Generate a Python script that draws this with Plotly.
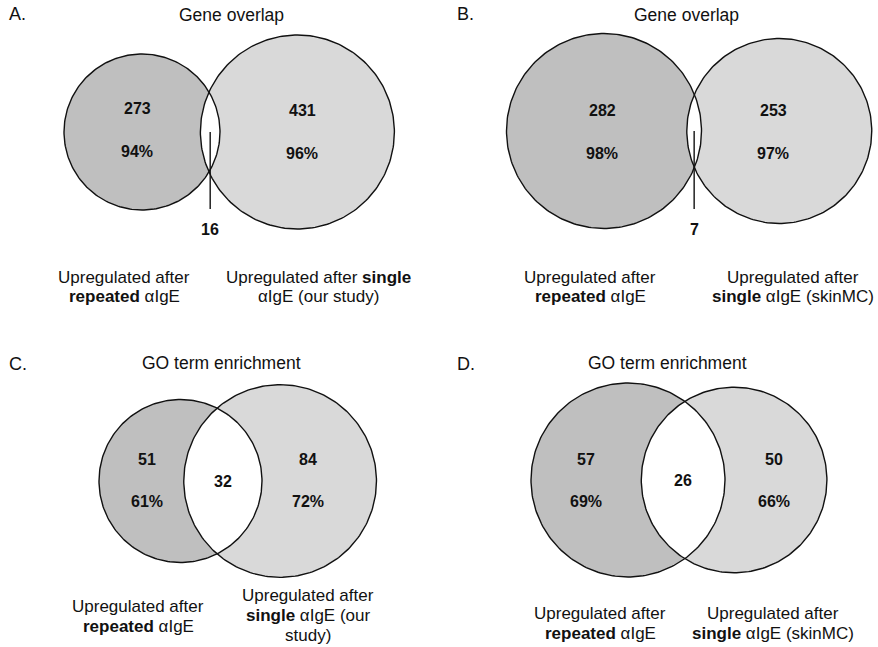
import math
import numpy as np
import plotly.graph_objects as go

# ---- data -------------------------------------------------------------
panel_letters = ["A.", "B.", "C.", "D."]
panel_titles = ["Gene overlap", "Gene overlap", "GO term enrichment", "GO term enrichment"]
only_left = [273, 282, 51, 57]          # repeated aIgE only
only_right = [431, 253, 84, 50]         # single aIgE only
shared = [16, 7, 32, 26]                # in both sets
pct_left = [94, 98, 61, 69]
pct_right = [96, 97, 72, 66]
left_labels = [
    ["Upregulated after", "<b>repeated</b> αIgE"],
    ["Upregulated after", "<b>repeated</b> αIgE"],
    ["Upregulated after", "<b>repeated</b> αIgE"],
    ["Upregulated after", "<b>repeated</b> αIgE"],
]
right_labels = [
    ["Upregulated after <b>single</b>", "αIgE (our study)"],
    ["Upregulated after", "<b>single</b> αIgE (skinMC)"],
    ["Upregulated after", "<b>single</b> αIgE (our", "study)"],
    ["Upregulated after", "<b>single</b> αIgE (skinMC)"],
]

# ---- layout of each panel (pixel space) -------------------------------
W, H = 878, 647
layout_cfg = [
    dict(cx=142, cy=132, r_left=78, letter=(7, 14), title=(231, 15),
         lab_l=(124, 277), lab_r=(318, 277), lab_dy=19,
         num_l=(137, 108), num_r=(302, 110), pct_dy=43, leader_bottom=209),
    dict(cx=604, cy=131, r_left=97.5, letter=(455, 14), title=(686, 15),
         lab_l=(590, 277), lab_r=(793, 277), lab_dy=19,
         num_l=(602, 110), num_r=(773, 110), pct_dy=43, leader_bottom=209),
    dict(cx=180.5, cy=481, r_left=81.5, letter=(7, 364), title=(221, 363),
         lab_l=(138, 606), lab_r=(308, 595), lab_dy=20,
         num_l=(147, 459), num_r=(308, 459), pct_dy=42, leader_bottom=None),
    dict(cx=628, cy=480, r_left=97, letter=(455, 364), title=(667, 363),
         lab_l=(600, 613), lab_r=(773, 613), lab_dy=20,
         num_l=(586, 459), num_r=(774, 459), pct_dy=42, leader_bottom=None),
]

FILL_LEFT = "#bfbfbf"
FILL_RIGHT = "#d9d9d9"
EDGE = "#111111"
FONT = "Liberation Sans, Arial, sans-serif"


def lens_area(r1, r2, d):
    if d >= r1 + r2:
        return 0.0
    if d <= abs(r1 - r2):
        return math.pi * min(r1, r2) ** 2
    a1 = r1 ** 2 * math.acos((d * d + r1 * r1 - r2 * r2) / (2 * d * r1))
    a2 = r2 ** 2 * math.acos((d * d + r2 * r2 - r1 * r1) / (2 * d * r2))
    a3 = 0.5 * math.sqrt((-d + r1 + r2) * (d + r1 - r2) * (d - r1 + r2) * (d + r1 + r2))
    return a1 + a2 - a3


def solve_distance(r1, r2, target):
    lo, hi = abs(r1 - r2) + 1e-6, r1 + r2
    for _ in range(80):
        mid = 0.5 * (lo + hi)
        if lens_area(r1, r2, mid) > target:
            lo = mid
        else:
            hi = mid
    return 0.5 * (lo + hi)


def circle_xy(x0, y0, r, n=241):
    t = np.linspace(0, 2 * np.pi, n)
    return x0 + r * np.cos(t), y0 + r * np.sin(t)


fig = go.Figure()
annotations = []


def add_text(x, y, text, size, bold=False, xanchor="center"):
    annotations.append(dict(
        x=x, y=y, xref="x", yref="y", text=f"<b>{text}</b>" if bold else text,
        showarrow=False, xanchor=xanchor, yanchor="middle",
        font=dict(family=FONT, size=size, color="#111111")))


for i, cfg in enumerate(layout_cfg):
    n_left = only_left[i] + shared[i]
    n_right = only_right[i] + shared[i]
    r1 = cfg["r_left"]
    k = math.pi * r1 ** 2 / n_left              # px^2 per item
    r2 = math.sqrt(n_right * k / math.pi)
    d = solve_distance(r1, r2, shared[i] * k)
    x1, y0 = cfg["cx"], cfg["cy"]
    x2 = x1 + d

    # filled discs
    for (xc, r, col) in [(x1, r1, FILL_LEFT), (x2, r2, FILL_RIGHT)]:
        xs, ys = circle_xy(xc, y0, r)
        fig.add_trace(go.Scatter(x=xs, y=ys, mode="lines", fill="toself",
                                 fillcolor=col, line=dict(width=0),
                                 hoverinfo="skip", showlegend=False))

    # white intersection lens
    a = (d * d + r1 * r1 - r2 * r2) / (2 * d)
    th1 = math.acos(max(-1, min(1, a / r1)))
    th2 = math.acos(max(-1, min(1, (d - a) / r2)))
    t1 = np.linspace(-th1, th1, 120)
    t2 = np.linspace(np.pi - th2, np.pi + th2, 120)
    lx = np.concatenate([x1 + r1 * np.cos(t1), x2 + r2 * np.cos(t2)])
    ly = np.concatenate([y0 + r1 * np.sin(t1), y0 + r2 * np.sin(t2)])
    fig.add_trace(go.Scatter(x=lx, y=ly, mode="lines", fill="toself",
                             fillcolor="white", line=dict(width=0),
                             hoverinfo="skip", showlegend=False))

    # outlines
    for (xc, r) in [(x1, r1), (x2, r2)]:
        xs, ys = circle_xy(xc, y0, r)
        fig.add_trace(go.Scatter(x=xs, y=ys, mode="lines",
                                 line=dict(color=EDGE, width=1.4),
                                 hoverinfo="skip", showlegend=False))

    lens_mid = 0.5 * ((x2 - r2) + (x1 + r1))

    # region counts
    add_text(cfg["num_l"][0], cfg["num_l"][1], str(only_left[i]), 16, bold=True)
    add_text(cfg["num_l"][0], cfg["num_l"][1] + cfg["pct_dy"], f"{pct_left[i]}%", 16, bold=True)
    add_text(cfg["num_r"][0], cfg["num_r"][1], str(only_right[i]), 16, bold=True)
    add_text(cfg["num_r"][0], cfg["num_r"][1] + cfg["pct_dy"], f"{pct_right[i]}%", 16, bold=True)

    if cfg["leader_bottom"] is not None:
        fig.add_trace(go.Scatter(x=[lens_mid, lens_mid], y=[y0, cfg["leader_bottom"]],
                                 mode="lines", line=dict(color=EDGE, width=1.4),
                                 hoverinfo="skip", showlegend=False))
        add_text(lens_mid, cfg["leader_bottom"] + 20, str(shared[i]), 16, bold=True)
    else:
        add_text(lens_mid, y0, str(shared[i]), 16, bold=True)

    # headings
    add_text(cfg["letter"][0], cfg["letter"][1], panel_letters[i], 18, xanchor="left")
    add_text(cfg["title"][0], cfg["title"][1], panel_titles[i], 17.5)

    # set captions
    for j, line in enumerate(left_labels[i]):
        add_text(cfg["lab_l"][0], cfg["lab_l"][1] + j * cfg["lab_dy"], line, 17)
    for j, line in enumerate(right_labels[i]):
        add_text(cfg["lab_r"][0], cfg["lab_r"][1] + j * cfg["lab_dy"], line, 17)

fig.update_layout(
    width=W, height=H,
    margin=dict(l=0, r=0, t=0, b=0),
    paper_bgcolor="white", plot_bgcolor="white",
    xaxis=dict(range=[0, W], visible=False, fixedrange=True),
    yaxis=dict(range=[H, 0], visible=False, fixedrange=True),
    annotations=annotations,
    showlegend=False,
)

fig.write_html("out.html")
